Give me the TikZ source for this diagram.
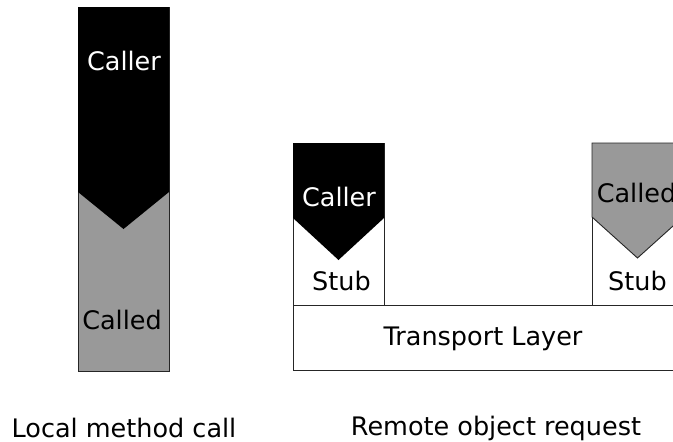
\documentclass[tikz,border=0pt]{standalone}
\usepackage{fontspec}
\setmainfont{DejaVu Sans}
\usetikzlibrary{positioning}

\begin{document}
\begin{tikzpicture}[x=1pt, y=-1pt,
  every node/.style={font=\fontsize{25.5}{30}\selectfont, anchor=base, inner sep=0pt},
  frame/.style={draw=black!85, line width=0.9pt},
  arrowhead/.style={draw=black!85, line width=0.9pt}]
\useasboundingbox (0,0) rectangle (673,442);
\clip (0,0) rectangle (673,442);
% Local call
\draw[frame, fill=black!40] (78,7) rectangle (169,371);
\fill (78,7) -- (169,7) -- (169,192) -- (123.5,229) -- (78,192) -- cycle;
\node[text=white] (localcaller) at (124,70) {Caller};
\node (localcalled) at (122,329) {Called};
% Remote request
\draw[frame, fill=white] (293,143) rectangle (384,305);
\fill (293,143) -- (384,143) -- (384,218) -- (338.5,260) -- (293,218) -- cycle;
\draw[frame, fill=white] (592,143) rectangle (683,305);
\filldraw[arrowhead, fill=black!40] (592,143) -- (683,143) -- (683,217) -- (637.5,258) -- (592,217) -- cycle;
\draw[frame, fill=white] (293,305) rectangle (683,370);
\node[text=white] (remotecaller) at (339,206) {Caller};
\node (callerstub) at (341.5,290) {Stub};
\node (remotecalled) at (636.5,202) {Called};
\node (calledstub) at (637.5,290) {Stub};
\node (transport) at (483,345) {Transport Layer};
% Captions
\node (localcap) at (124,437) {Local method call};
\node (remotecap) at (496,435) {Remote object request};
\end{tikzpicture}
\end{document}
